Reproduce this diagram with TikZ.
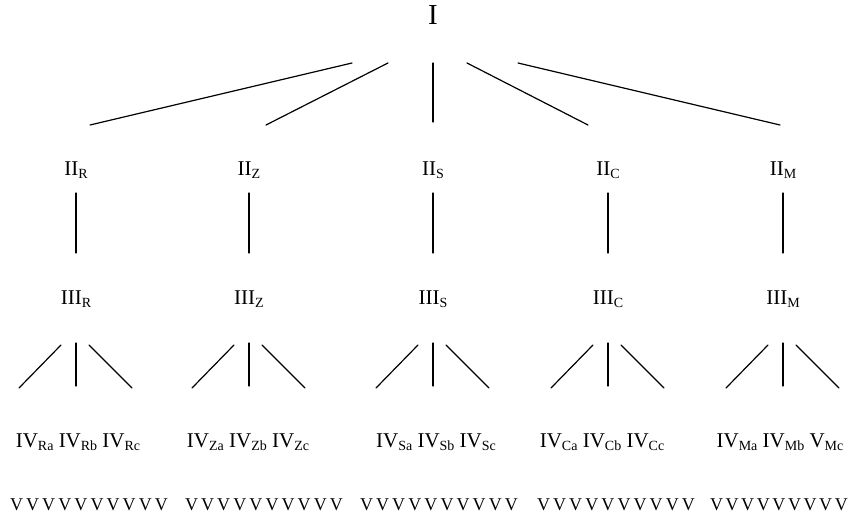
\documentclass[tikz,border=0pt]{standalone}
\usepackage{fontspec}
\setmainfont{Liberation Serif}
\usetikzlibrary{calc}
% lowered, smaller upright index letters
\newcommand\lsub[1]{\raisebox{-3pt}{\fontsize{14}{16}\selectfont #1}}
\begin{document}
\begin{tikzpicture}[x=1pt,y=-1pt,
  lbl/.style={font=\fontsize{21}{24}\selectfont, inner sep=0pt, anchor=base},
  toplbl/.style={font=\fontsize{29}{32}\selectfont, inner sep=0pt, anchor=base},
  vv/.style={font=\fontsize{18}{22}\selectfont, inner sep=0pt, anchor=base},
  edge/.style={line width=1.2pt, line cap=round}]
\useasboundingbox (0,0) rectangle (856,516);

% root
\node[toplbl] (I) at (433,25) {I};

% second and third levels with their links
\foreach \k/\x in {R/76,Z/249,S/433,C/608,M/783} {
  \node[lbl] (II\k) at (\x,175) {II\lsub{\k}};
  \node[lbl] (III\k) at (\x,304) {III\lsub{\k}};
  \draw[edge] ($(II\k.base)+(0,18)$) -- ($(III\k.base)+(0,-51)$);
  \draw[edge] ($(III\k.base)+(-15,41)$) -- ($(III\k.base)+(-57,84)$);
  \draw[edge] ($(III\k.base)+(0,39)$) -- ($(III\k.base)+(0,82)$);
  \draw[edge] ($(III\k.base)+(13,41)$) -- ($(III\k.base)+(56,84)$);
}

% fan from the root
\draw[edge] ($(I.base)+(-81,38)$) -- ($(IIR.base)+(14,-50)$);
\draw[edge] ($(I.base)+(-45,38)$) -- ($(IIZ.base)+(17,-50)$);
\draw[edge] ($(I.base)+(0,38)$)   -- ($(IIS.base)+(0,-53)$);
\draw[edge] ($(I.base)+(34,38)$)  -- ($(IIC.base)+(-20,-50)$);
\draw[edge] ($(I.base)+(85,38)$)  -- ($(IIM.base)+(-3,-50)$);

% fourth level
\node[lbl] (IVR) at (78,447)  {IV\lsub{Ra} IV\lsub{Rb} IV\lsub{Rc}};
\node[lbl] (IVZ) at (248,447) {IV\lsub{Za} IV\lsub{Zb} IV\lsub{Zc}};
\node[lbl] (IVS) at (436,447) {IV\lsub{Sa} IV\lsub{Sb} IV\lsub{Sc}};
\node[lbl] (IVC) at (602,447) {IV\lsub{Ca} IV\lsub{Cb} IV\lsub{Cc}};
\node[lbl] (IVM) at (780,447) {IV\lsub{Ma} IV\lsub{Mb} V\lsub{Mc}};

% fifth level
\foreach \g/\s/\p/\n in {1/10/16.1/10, 2/185/16.1/10, 3/360/16.1/10, 4/537/16.1/10, 5/710/15.6/9} {
  \foreach \j in {1,...,\n}
    \node[vv] (v\g-\j) at ({\s+6.5+(\j-1)*\p},510) {V};
}
\end{tikzpicture}
\end{document}
